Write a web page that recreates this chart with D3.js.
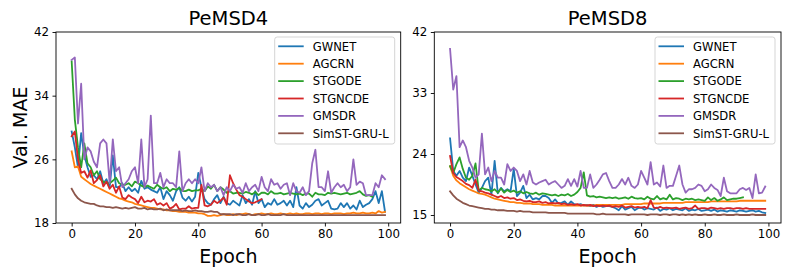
<!DOCTYPE html>
<html>
<head>
<meta charset="utf-8">
<script src="https://cdn.jsdelivr.net/npm/d3@7"></script>
<style>
  body { margin: 0; background: #fff; }
  svg { font-family: "DejaVu Sans", sans-serif; }
</style>
</head>
<body>
<div id="chart"></div>
<script>
// model names and colours (matplotlib tab10)
const models = ["GWNET", "AGCRN", "STGODE", "STGNCDE", "GMSDR", "SimST-GRU-L"];
const colors = ["#1f77b4", "#ff7f0e", "#2ca02c", "#d62728", "#9467bd", "#8c564b"];

const xTicks = [0, 20, 40, 60, 80, 100];
const yTicks4 = [18, 26, 34, 42];
const yTicks8 = [15, 24, 33, 42];

// ---- PeMSD4 validation MAE per epoch ----
const gwnet4 = [29.5, 27.5, 25.0, 29.3, 26.5, 25.0, 23.8, 24.0, 23.5, 24.5,
  23.0, 23.5, 22.5, 26.5, 22.5, 22.5, 23.0, 22.0, 22.5, 22.0,
  22.3, 21.8, 23.3, 22.3, 22.5, 22.2, 22.0, 21.8, 22.5, 21.0,
  22.0, 21.5, 20.8, 22.0, 22.5, 21.2, 20.8, 21.3, 20.7, 21.3,
  24.3, 22.5, 21.0, 20.5, 20.3, 21.0, 21.5, 20.5, 21.3, 20.5,
  20.3, 20.8, 20.5, 20.2, 21.5, 20.5, 21.0, 20.3, 22.0, 20.5,
  21.0, 20.0, 20.5, 20.3, 21.0, 20.3, 20.5, 20.8, 20.2, 20.8,
  20.0, 22.5, 20.2, 19.8, 20.5, 20.0, 20.3, 20.8, 21.0, 20.2,
  20.5, 20.8, 19.8, 19.7, 19.8, 20.5, 20.0, 20.5, 19.8, 20.2,
  19.7, 20.8, 20.0, 20.3, 20.5, 21.0, 22.0, 20.5, 22.0, 19.4];
const agcrn4 = [27.0, 25.0, 25.1, 23.8, 23.5, 23.2, 22.9, 22.7, 22.5, 22.3,
  22.1, 21.9, 21.7, 21.5, 21.3, 21.1, 21.0, 20.8, 20.7, 20.6,
  20.4, 20.3, 20.2, 20.1, 20.0, 19.9, 19.9, 19.8, 19.7, 19.7,
  19.6, 19.6, 19.5, 19.5, 19.4, 19.4, 19.4, 19.3, 19.3, 19.3,
  19.2, 19.2, 19.1, 18.9, 18.9, 19.0, 18.9, 19.0, 19.1, 19.0,
  19.0, 19.1, 19.0, 19.1, 19.1, 19.2, 19.1, 19.0, 19.1, 19.1,
  19.2, 19.1, 19.1, 19.2, 19.1, 19.1, 19.2, 19.1, 19.1, 19.2,
  19.1, 19.2, 19.1, 19.1, 19.2, 19.2, 19.1, 19.2, 19.2, 19.1,
  19.2, 19.2, 19.1, 19.2, 19.2, 19.2, 19.1, 19.2, 19.2, 19.3,
  19.2, 19.2, 19.3, 19.2, 19.2, 19.3, 19.2, 19.5, 19.3, 19.4];
const stgode4 = [38.3, 31.0, 27.5, 25.0, 28.0, 25.5, 25.0, 24.0, 24.5, 23.5,
  23.2, 23.0, 23.0, 23.3, 23.7, 23.0, 22.8, 22.8, 23.0, 22.6,
  23.2, 23.0, 22.7, 22.5, 22.7, 22.5, 22.3, 22.8, 22.5, 22.3,
  22.5, 22.0, 22.3, 22.2, 22.4, 22.0, 22.0, 22.2, 22.0, 22.1,
  22.1, 22.3, 22.0, 22.6, 22.3, 22.8, 22.0, 22.5, 22.2, 21.8,
  22.0, 21.7, 21.8, 21.8, 21.7, 21.9, 21.8, 21.6, 21.9, 21.5,
  21.8, 21.8, 21.6, 22.0, 21.7, 21.7, 21.8, 21.6, 21.7, 21.8,
  21.7, 21.6, 21.7, 21.5, 21.7, 21.7, 21.3, 21.8, 21.6, 21.6,
  21.5, 21.8, 21.7, 21.8, 21.7, 21.6, 21.7, 21.8, 21.6, 21.7,
  21.8, 22.0, 21.6, 21.4, 21.5, 21.3];
const stgncde4 = [28.9, 29.5, 26.0, 24.3, 24.5, 23.7, 24.6, 23.0, 23.4, 24.0,
  22.6, 23.2, 22.3, 22.8, 21.8, 22.6, 21.2, 21.0, 21.5, 21.2,
  21.0, 20.5, 21.3, 20.6, 20.8, 20.7, 21.0, 20.3, 20.5, 20.2,
  20.5, 19.8, 20.0, 20.4, 19.7, 19.8, 19.8, 20.1, 19.8, 19.9,
  19.9, 22.8, 20.2, 20.1, 20.3, 20.8, 20.5, 20.8, 21.2, 20.3,
  24.0, 23.0, 22.2, 21.5, 21.3, 21.0, 20.7, 20.5, 20.6, 20.8,
  21.0];
const gmsdr4 = [38.5, 38.8, 30.5, 35.5, 26.0, 27.5, 27.0, 25.7, 25.0, 28.0,
  28.5, 28.0, 23.0, 28.5, 24.5, 25.0, 22.5, 23.0, 23.5, 24.5,
  25.0, 23.0, 28.5, 22.5, 23.5, 31.5, 23.0, 23.0, 24.3, 22.5,
  23.5, 23.0, 23.0, 22.5, 27.0, 22.0, 23.0, 23.5, 23.0, 23.5,
  23.0, 25.0, 22.0, 23.0, 22.5, 22.8, 22.0, 22.5, 21.5, 22.5,
  22.0, 22.8, 22.3, 22.5, 21.8, 23.0, 22.0, 22.5, 22.8, 22.0,
  23.8, 22.5, 22.0, 23.5, 22.8, 23.0, 22.3, 22.8, 23.0, 21.5,
  23.0, 22.0, 21.8, 22.5, 21.5, 22.0, 25.5, 27.2, 22.5, 22.5,
  22.0, 24.5, 21.8, 22.5, 23.0, 22.5, 22.8, 22.0, 22.5, 26.0,
  22.8, 23.2, 23.0, 21.5, 21.5, 21.5, 23.0, 22.5, 24.0, 23.5];
const simst4 = [22.3, 21.6, 21.1, 20.8, 20.6, 20.5, 20.4, 20.4, 20.2, 20.1,
  20.1, 20.0, 20.0, 19.9, 20.0, 19.9, 19.8, 19.9, 19.8, 19.9,
  20.0, 19.8, 19.8, 19.9, 19.7, 19.8, 19.7, 19.7, 19.8, 19.6,
  19.7, 19.6, 19.6, 19.6, 19.6, 19.5, 19.6, 19.5, 19.5, 19.6,
  19.5, 19.5, 19.4, 19.4, 19.5, 19.4, 19.4, 19.1, 19.1, 19.1,
  19.1, 19.0, 19.1, 19.1, 19.0, 19.0, 19.1, 19.0, 19.0, 19.1,
  19.0, 19.0, 19.1, 19.0, 19.0, 19.0, 19.0, 19.1, 19.0, 19.0,
  19.0, 19.0, 19.0, 19.0, 19.0, 19.0, 19.0, 19.0, 19.0, 19.0,
  19.0, 19.0, 19.0, 19.0, 19.0, 19.0, 19.0, 19.0, 19.0, 19.0,
  19.0, 19.0, 19.0, 19.0, 19.0, 19.0, 19.0, 19.0, 19.0, 19.0];

// ---- PeMSD8 validation MAE per epoch ----
const gwnet8 = [26.3, 21.5, 20.8, 21.5, 20.5, 20.0, 22.0, 20.8, 19.5, 18.3,
  19.0, 20.0, 20.5, 18.0, 23.0, 18.2, 19.0, 18.5, 18.8, 18.5,
  21.8, 17.8, 18.3, 19.3, 17.5, 18.0, 17.3, 17.5, 17.3, 17.8,
  17.8, 17.5, 16.8, 17.3, 16.7, 16.8, 17.0, 16.5, 17.0, 16.6,
  16.5, 16.6, 16.4, 16.5, 16.3, 16.5, 16.2, 16.4, 16.2, 16.3,
  16.3, 16.2, 16.0, 15.7, 16.3, 15.8, 16.0, 16.2, 15.7, 16.0,
  16.1, 15.8, 16.0, 15.9, 15.8, 16.1, 15.6, 15.9, 15.8, 16.0,
  15.7, 15.9, 15.8, 15.7, 16.0, 15.6, 15.8, 15.7, 15.9, 15.6,
  15.7, 15.8, 15.6, 15.8, 15.5, 15.7, 15.6, 15.5, 15.7, 15.6,
  15.5, 15.7, 15.6, 15.5, 15.6, 15.7, 15.5, 15.6, 15.4, 15.3];
const agcrn8 = [22.2, 20.8, 20.1, 19.7, 19.4, 19.1, 18.8, 18.6, 18.4, 18.2,
  18.1, 18.0, 17.8, 17.6, 17.4, 17.3, 17.2, 17.1, 17.0, 16.9,
  16.9, 16.8, 16.8, 16.7, 16.7, 16.7, 16.6, 16.6, 16.6, 16.5,
  16.5, 16.5, 16.5, 16.4, 16.4, 16.4, 16.4, 16.4, 16.4, 16.4,
  16.4, 16.4, 16.4, 16.4, 16.4, 16.4, 16.5, 16.5, 16.5, 16.5,
  16.5, 16.5, 16.5, 16.5, 16.5, 16.6, 16.6, 16.6, 16.6, 16.6,
  16.6, 16.7, 16.7, 16.7, 16.7, 16.7, 16.7, 16.8, 16.8, 16.8,
  16.8, 16.8, 16.8, 16.8, 16.9, 16.9, 16.9, 16.9, 16.9, 16.9,
  16.9, 16.9, 17.0, 17.0, 17.0, 17.0, 17.0, 17.0, 17.0, 17.0,
  17.0, 17.1, 17.1, 17.1, 17.1, 17.1, 17.1, 17.1, 17.1, 17.1];
const stgode8 = [22.2, 21.2, 22.5, 23.5, 21.8, 20.5, 20.2, 20.8, 22.6, 18.6,
  19.0, 18.8, 18.7, 18.5, 18.8, 18.3, 18.9, 18.3, 18.7, 18.4,
  18.6, 18.3, 18.5, 18.2, 18.4, 18.2, 18.1, 18.3, 18.0, 18.2,
  18.1, 18.0, 17.9, 18.0, 17.8, 18.0, 17.9, 18.1, 17.8, 18.0,
  18.4, 19.0, 21.3, 17.9, 17.7, 17.8, 17.6, 17.7, 17.6, 17.5,
  17.6, 17.5, 17.6, 17.4, 17.5, 17.6, 17.4, 17.7, 17.5, 17.4,
  17.5, 17.3, 17.7, 17.4, 17.3, 17.8, 17.3, 17.5, 17.3, 18.0,
  17.3, 17.5, 17.4, 17.2, 17.4, 17.3, 17.4, 17.2, 17.3, 17.2,
  17.1, 17.6, 17.2, 17.5, 17.1, 17.3, 17.6, 17.2, 17.3, 17.4,
  17.4, 17.5, 17.6];
const stgncde8 = [23.7, 21.2, 20.6, 20.3, 20.0, 19.6, 19.4, 19.0, 20.2, 18.6,
  18.5, 18.3, 18.2, 18.0, 17.8, 17.6, 17.8, 17.5, 17.6, 17.4,
  17.5, 17.2, 17.3, 17.1, 17.0, 17.1, 16.9, 16.9, 17.0, 16.8,
  16.9, 16.7, 16.8, 16.7, 16.8, 16.6, 16.7, 16.5, 16.6, 16.5,
  16.6, 16.4, 16.5, 16.4, 16.5, 16.3, 16.4, 16.3, 16.4, 16.3,
  16.4, 16.2, 16.3, 16.2, 16.4, 16.1, 16.2, 16.3, 16.1, 16.2,
  16.1, 16.2, 16.0, 17.2, 16.1, 16.0, 16.2, 16.0, 16.1, 16.0,
  16.0, 16.1, 15.9, 16.0, 16.1, 15.9, 16.0, 16.4, 15.9, 16.0,
  16.0, 15.9, 16.1, 16.0, 15.9, 16.0, 15.9, 16.0, 16.0, 15.9,
  16.0, 16.0, 15.9, 16.0, 15.9, 15.9, 15.9, 15.9, 15.9, 15.9];
const gmsdr8 = [39.5, 33.5, 35.5, 25.0, 26.0, 25.0, 23.0, 22.0, 20.5, 21.0,
  27.0, 21.0, 22.0, 20.0, 21.5, 20.5, 20.5, 19.5, 22.5, 21.5,
  22.0, 21.5, 20.0, 21.0, 19.5, 21.5, 19.8, 19.5, 19.8, 20.0,
  20.2, 19.5, 19.8, 20.0, 19.5, 19.0, 19.3, 20.3, 19.3, 20.3,
  19.2, 21.5, 19.0, 19.0, 21.0, 19.0, 19.5, 20.2, 21.0, 21.2,
  20.0, 19.0, 19.0, 19.5, 20.3, 19.5, 20.5, 19.3, 19.0, 19.5,
  21.5, 20.5, 19.5, 22.8, 19.5, 19.8, 19.2, 22.3, 19.0, 19.3,
  19.3, 20.8, 22.3, 19.5, 18.3, 18.8, 18.8, 19.0, 19.5, 19.3,
  18.5, 18.8, 19.5, 19.0, 18.7, 17.8, 20.5, 18.5, 18.2, 18.2,
  18.2, 18.8, 19.0, 18.7, 19.0, 17.5, 21.0, 18.2, 18.3, 19.2];
const simst8 = [18.5, 17.9, 17.4, 17.1, 16.8, 16.6, 16.4, 16.3, 16.2, 16.1,
  16.0, 15.9, 15.9, 15.8, 15.8, 15.7, 15.7, 15.7, 15.6, 15.6,
  15.6, 15.5, 15.6, 15.5, 15.5, 15.5, 15.4, 15.4, 15.4, 15.4,
  15.4, 15.3, 15.3, 15.3, 15.3, 15.3, 15.3, 15.2, 15.2, 15.2,
  15.2, 15.2, 15.2, 15.2, 15.2, 15.2, 15.1, 15.1, 15.2, 15.1,
  15.1, 15.1, 15.1, 15.1, 15.1, 15.1, 15.0, 15.1, 15.1, 15.1,
  15.1, 15.1, 15.0, 15.1, 15.1, 15.1, 15.0, 15.1, 15.1, 15.0,
  15.1, 15.1, 15.0, 15.1, 15.0, 15.1, 15.0, 15.1, 15.0, 15.0,
  15.1, 15.0, 15.0, 15.1, 15.0, 15.0, 15.1, 15.0, 15.0, 15.0,
  15.1, 15.0, 15.0, 15.0, 15.0, 15.1, 15.0, 15.0, 15.0, 15.0];

const W = 789, H = 276;
const svg = d3.select("#chart").append("svg")
  .attr("width", W).attr("height", H)
  .attr("viewBox", `0 0 ${W} ${H}`);

const panels = [
  { title: "PeMSD4", left: 56, right: 400.7, yDomain: [18, 42], yTicks: yTicks4,
    series: [gwnet4, agcrn4, stgode4, stgncde4, gmsdr4, simst4], ylabel: "Val. MAE" },
  { title: "PeMSD8", left: 434.3, right: 781, yDomain: [13.82, 42], yTicks: yTicks8,
    series: [gwnet8, agcrn8, stgode8, stgncde8, gmsdr8, simst8], ylabel: null }
];
const plotTop = 32, plotBottom = 223;

panels.forEach((p, pi) => {
  const x = d3.scaleLinear().domain([-4.95, 103.95]).range([p.left, p.right]);
  const y = d3.scaleLinear().domain(p.yDomain).range([plotBottom, plotTop]);
  const g = svg.append("g");

  const clipId = "clip" + pi;
  svg.append("clipPath").attr("id", clipId).append("rect")
    .attr("x", p.left).attr("y", plotTop)
    .attr("width", p.right - p.left).attr("height", plotBottom - plotTop);

  // lines
  const line = d3.line().x((d, i) => x(i)).y(d => y(d));
  const lg = g.append("g").attr("clip-path", `url(#${clipId})`);
  p.series.forEach((s, si) => {
    lg.append("path").datum(s)
      .attr("d", line)
      .attr("fill", "none")
      .attr("stroke", colors[si])
      .attr("stroke-width", 1.8)
      .attr("stroke-linejoin", "round")
      .attr("stroke-linecap", "square");
  });

  // axes
  const xAxis = d3.axisBottom(x).tickValues(xTicks).tickSize(3.5).tickPadding(3.5);
  const yAxis = d3.axisLeft(y).tickValues(p.yTicks).tickSize(3.5).tickPadding(3.5);
  const ax = g.append("g").attr("transform", `translate(0,${plotBottom})`).call(xAxis);
  const ay = g.append("g").attr("transform", `translate(${p.left},0)`).call(yAxis);
  [ax, ay].forEach(a => {
    a.select(".domain").remove();
    a.selectAll("line").attr("stroke", "#000").attr("stroke-width", 0.9);
    a.selectAll("text").attr("font-size", "11.8px").attr("fill", "#000")
      .attr("font-family", "DejaVu Sans, sans-serif");
  });

  // frame
  g.append("rect")
    .attr("x", p.left).attr("y", plotTop)
    .attr("width", p.right - p.left).attr("height", plotBottom - plotTop)
    .attr("fill", "none").attr("stroke", "#000").attr("stroke-width", 0.9);

  // titles
  g.append("text")
    .attr("x", (p.left + p.right) / 2).attr("y", 25)
    .attr("text-anchor", "middle").attr("font-size", "19.5px")
    .text(p.title);
  g.append("text")
    .attr("x", (p.left + p.right) / 2).attr("y", 263)
    .attr("text-anchor", "middle").attr("font-size", "19px")
    .text("Epoch");
  if (p.ylabel) {
    g.append("text")
      .attr("transform", `translate(27,${(plotTop + plotBottom) / 2}) rotate(-90)`)
      .attr("text-anchor", "middle").attr("font-size", "19px")
      .text(p.ylabel);
  }

  // legend
  const lx = p.right - 126, ly = 37;
  const leg = g.append("g");
  leg.append("rect")
    .attr("x", lx).attr("y", ly).attr("width", 120).attr("height", 107)
    .attr("rx", 2.5).attr("fill", "#fff").attr("fill-opacity", 0.8)
    .attr("stroke", "#d0d0d0").attr("stroke-width", 0.9);
  models.forEach((m, i) => {
    const yy = ly + 9.3 + i * 17.4;
    leg.append("line")
      .attr("x1", lx + 3.5).attr("x2", lx + 29)
      .attr("y1", yy).attr("y2", yy)
      .attr("stroke", colors[i]).attr("stroke-width", 1.8);
    leg.append("text")
      .attr("x", lx + 38).attr("y", yy + 4.2)
      .attr("font-size", "11.6px")
      .text(m);
  });
});
</script>
</body>
</html>
